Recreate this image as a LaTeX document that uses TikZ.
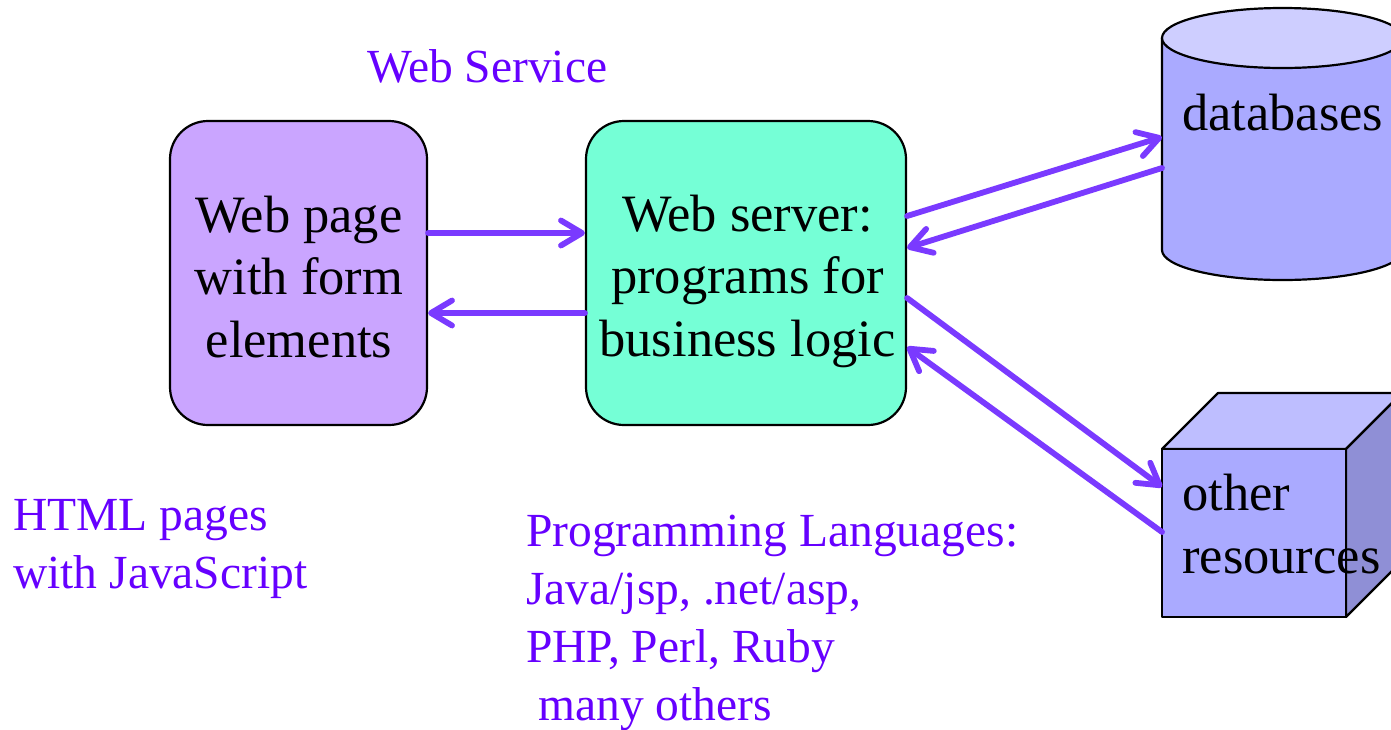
\documentclass[tikz,border=0pt]{standalone}
\usepackage{fontspec}
\setmainfont{Liberation Serif}
\usetikzlibrary{arrows.meta}
\definecolor{txtpurple}{RGB}{102,0,255}
\definecolor{arrcol}{RGB}{122,58,255}
\definecolor{pagefill}{RGB}{202,165,255}
\definecolor{serverfill}{RGB}{117,255,214}
\definecolor{dbbody}{RGB}{170,170,255}
\definecolor{dbtop}{RGB}{206,206,255}
\definecolor{cubefront}{RGB}{170,170,255}
\definecolor{cubetop}{RGB}{190,190,255}
\definecolor{cubeside}{RGB}{143,143,214}
\tikzset{
  box/.style={draw=black, line width=2.2pt, rounded corners=38pt, inner sep=0pt},
  shapeline/.style={draw=black, line width=2.2pt, line join=round},
  blacktext/.style={font=\fontsize{52.5}{62.5}\selectfont, text=black, inner sep=0pt, align=left},
  purpletext/.style={font=\fontsize{47.5}{57.7}\selectfont, text=txtpurple, inner sep=0pt, align=left},
  arr/.style={draw=arrcol, line width=5.8pt, line cap=round,
    -{Straight Barb[length=21pt, width=25pt, round]}},
}
\begin{document}
\begin{tikzpicture}[x=1pt, y=-1pt]
\useasboundingbox (0,0) rectangle (1391,729);
\fill[white] (0,0) rectangle (1391,729);
\begin{scope}
\clip (0,0) rectangle (1391,729);
% database cylinder
\path[shapeline, fill=dbbody] (1162,38) -- (1162,250) arc[start angle=180, end angle=360, x radius=120.5, y radius=-30] -- (1403,38) -- cycle;
\path[shapeline, fill=dbtop] (1282.5,38) ellipse[x radius=120.5, y radius=30];
% cube
\path[shapeline, fill=cubetop] (1162,449) -- (1218,393) -- (1402,393) -- (1346,449) -- cycle;
\path[shapeline, fill=cubeside] (1346,449) -- (1402,393) -- (1402,561) -- (1346,617) -- cycle;
\path[shapeline, fill=cubefront] (1162,449) rectangle (1346,617);
\end{scope}

% boxes
\node[box, fill=pagefill, minimum width=257pt, minimum height=304pt] (page) at (298.5,273) {};
\node[box, fill=serverfill, minimum width=320pt, minimum height=304pt] (server) at (746,273) {};

% box texts (base anchor = baseline of last line)
\node[blacktext, align=center, anchor=base] (pagetxt) at (299,357) {Web page\\with form\\elements};
\node[blacktext, align=center, anchor=base] (servertxt) at (747.5,356) {Web server:\\programs for\\business logic};
\node[blacktext, anchor=base west] (dbtxt) at (1182,130) {databases};
\node[blacktext, anchor=base west] (restxt) at (1182,573) {other\\resources};

% purple labels
\node[purpletext, anchor=base west] (ws) at (367,82) {Web Service};
\node[purpletext, anchor=base west] (html) at (13,588) {HTML pages\\with JavaScript};
\node[purpletext, anchor=base west] (lang) at (526,720) {Programming Languages:\\Java/jsp, .net/asp,\\PHP, Perl, Ruby\\\hspace*{12pt}many others};

% connection points on db and resources
\coordinate (dbin) at (1162,137);
\coordinate (dbout) at (1162,168);
\coordinate (resin) at (1162,487);
\coordinate (resout) at (1162,532);

% arrows
\draw[arr] (page.east |- 0,233) -- (server.west |- 0,233);
\draw[arr] (server.west |- 0,313) -- (page.east |- 0,313);
\draw[arr] (server.east |- 0,216) -- (dbin);
\draw[arr] (dbout) -- (server.east |- 0,248);
\draw[arr] (server.east |- 0,298) -- (resin);
\draw[arr] (resout) -- (server.east |- 0,347);
\end{tikzpicture}
\end{document}
